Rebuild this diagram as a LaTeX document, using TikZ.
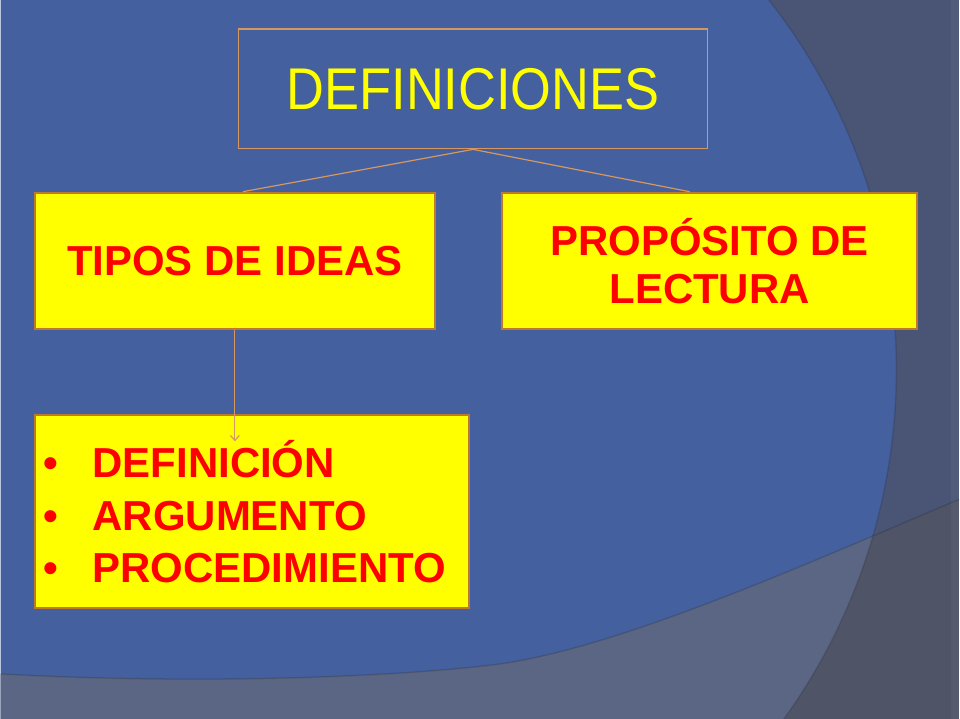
\documentclass[tikz,border=0pt]{standalone}
\usepackage{fontspec}
\setmainfont{Liberation Sans}
\newfontfamily\estrecha[FakeStretch=0.89]{Liberation Sans}
\usetikzlibrary{arrows.meta}
\definecolor{fondo}{RGB}{69,96,158}
\definecolor{fondooscuro}{RGB}{74,85,117}
\definecolor{franja}{RGB}{90,102,131}
\definecolor{franjaoscura}{RGB}{79,84,102}
\definecolor{borde}{RGB}{188,122,42}
\definecolor{linea}{RGB}{214,152,94}
\definecolor{amarillo}{RGB}{255,255,0}
\definecolor{rojo}{RGB}{255,0,0}

\begin{document}
\begin{tikzpicture}[x=1pt,y=-1pt]
  \tikzstyle{caja}=[draw=borde,line width=2pt,fill=amarillo,text=rojo,align=center,font=\bfseries\fontsize{42}{48}\selectfont]
  \tikzstyle{conector}=[draw=linea,line width=1.2pt]
  % fondo
  \fill[fondooscuro] (0,0) rectangle (960,720);
  \begin{scope}
    \clip (0,0) rectangle (960,720);
    \fill[fondo] (297,370) circle (600pt);
    \draw[black,opacity=0.12,line width=1.5pt] (297,370) circle (600pt);
  \end{scope}
  \begin{scope}
    \clip (0,675) .. controls (200,686) and (400,678) .. (500,665)
      .. controls (620,648) and (800,568) .. (960,500) -- (960,720) -- (0,720) -- cycle;
    \fill[franjaoscura] (0,0) rectangle (960,720);
    \fill[franja] (297,370) circle (600pt);
    \draw[black,opacity=0.12,line width=1.5pt] (297,370) circle (600pt);
  \end{scope}
  \draw[black,opacity=0.12,line width=1.5pt] (0,675) .. controls (200,686) and (400,678) .. (500,665)
      .. controls (620,648) and (800,568) .. (960,500);
  \fill[white,opacity=0.04] (952,0) rectangle (960,720);
  % cajas
  \node[draw=linea,line width=1.2pt,minimum width=470pt,minimum height=120pt,text=amarillo,font=\estrecha\fontsize{59}{59}\selectfont] (definiciones) at (473,89) {DEFINICIONES};
  \node[caja,minimum width=401pt,minimum height=137pt] (tipos) at (234.5,261.5) {TIPOS DE IDEAS};
  \node[caja,minimum width=416pt,minimum height=137pt] (proposito) at (710,261.5) {PROPÓSITO DE\\LECTURA};
  \node[caja,minimum width=435pt,minimum height=193pt,align=left,inner xsep=9pt,text width=417pt,font=\bfseries\fontsize{42}{52.5}\selectfont] (ideas) at (251.5,512.5)
    {\makebox[49pt][l]{\textbullet}DEFINICIÓN\\\makebox[49pt][l]{\textbullet}ARGUMENTO\\\makebox[49pt][l]{\textbullet}PROCEDIMIENTO};
  \coordinate (punta) at (234.5,442);
  % conectores
  \draw[conector] (definiciones.south) -- ([xshift=8pt]tipos.north);
  \draw[conector] (definiciones.south) -- ([xshift=-20pt]proposito.north);
  \draw[conector,-{Straight Barb[length=5pt,width=9pt]}] (tipos.south) -- (punta);
\end{tikzpicture}
\end{document}
